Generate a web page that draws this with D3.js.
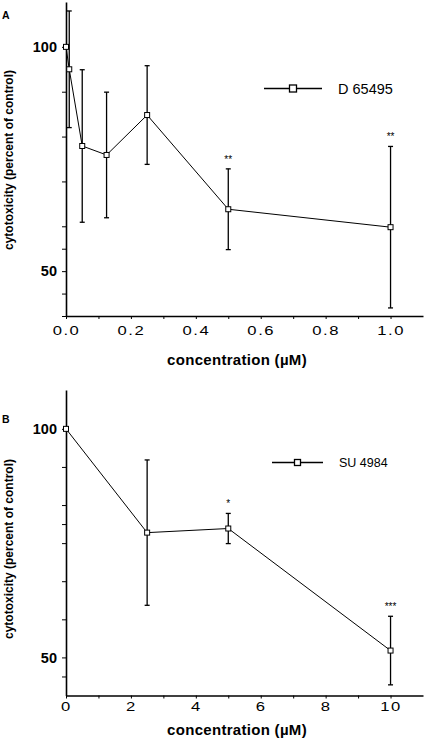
<!DOCTYPE html>
<html><head><meta charset="utf-8">
<script src="https://cdn.jsdelivr.net/npm/d3@7"></script>
<style>
body{margin:0;background:#fff}
svg{display:block}
text{font-family:"Liberation Sans",Arial,Helvetica,sans-serif;fill:#000}
</style>
</head><body>
<svg id="c" width="426" height="738"></svg>
<script>
// ---- data ----
const concA = [0, 0.01, 0.05, 0.125, 0.25, 0.5, 1.0];
const valA  = [100, 95, 77.9, 75.9, 84.8, 63.8, 59.8];
const errA  = [0, 13, 17, 14, 11, 9, 18];
const sigA  = ["", "", "", "", "", "**", "**"];

const concB = [0, 2.5, 5, 10];
const valB  = [100, 77.3, 78.2, 51.5];
const errB  = [0, 15.9, 3.3, 7.5];
const sigB  = ["", "", "*", "***"];

const yTicksA  = [100, 90, 80, 70, 60, 55, 50, 45, 40];
const yLabelsA = [100, 50];
const xTicksA  = [0, 0.1, 0.2, 0.3, 0.4, 0.5, 0.6, 0.7, 0.8, 0.9, 1.0];
const xLabelsA = [0, 0.2, 0.4, 0.6, 0.8, 1.0];

const yTicksB  = [100, 91.67, 83.33, 79.17, 75, 66.67, 58.33, 50, 45.83];
const yLabelsB = [100, 50];
const xTicksB  = [0, 1, 2, 3, 4, 5, 6, 7, 8, 9, 10];
const xLabelsB = [0, 2, 4, 6, 8, 10];

const seriesA = "D 65495", seriesB = "SU 4984";
const xTitle = "concentration (\u00B5M)";
const yTitle = "cytotoxicity (percent of control)";

// ---- drawing ----
const svg = d3.select("#c");

function panel(cfg) {
  const g = svg.append("g");
  const x = d3.scaleLinear().domain(cfg.xDomain).range([66, 423]);
  const y = d3.scaleLinear().domain(cfg.yDomain).range([cfg.bottom, cfg.top]);

  // x axis line + ticks
  const gx = g.append("g").attr("transform", `translate(0,${cfg.bottom})`)
    .call(d3.axisBottom(x).tickValues(cfg.xTicks).tickSize(3).tickSizeOuter(0).tickFormat(""));
  gx.select(".domain").attr("stroke-width", 1.6);
  gx.selectAll(".tick line").attr("stroke-width", 1);

  // x labels
  const gxl = g.append("g").attr("transform", `translate(0,${cfg.bottom})`)
    .call(d3.axisBottom(x).tickValues(cfg.xLabels).tickSize(0).tickPadding(cfg.xPad).tickFormat(cfg.xFmt));
  gxl.select(".domain").remove();
  gxl.selectAll("text").attr("font-size", 13).attr("font-family", null)
    .style("letter-spacing", "1.2px").attr("transform", "scale(1.28,1)");

  // y axis line + ticks
  const gy = g.append("g").attr("transform", "translate(66,0)")
    .call(d3.axisLeft(y).tickValues(cfg.yTicks).tickSize(4).tickSizeOuter(0).tickFormat(""));
  gy.select(".domain").attr("stroke-width", 1.6);
  gy.selectAll(".tick line").attr("stroke-width", 1);

  const gyl = g.append("g").attr("transform", "translate(66,0)")
    .call(d3.axisLeft(y).tickValues(cfg.yLabels).tickSize(0).tickPadding(9).tickFormat(d3.format("d")));
  gyl.select(".domain").remove();
  gyl.selectAll("text").attr("font-size", 14.5).attr("font-weight", "bold").attr("font-family", null);

  // titles
  g.append("text").attr("x", 237).attr("y", cfg.xTitleY).attr("text-anchor", "middle")
    .attr("font-size", 15).attr("font-weight", "bold").style("letter-spacing", "0.3px").text(xTitle);
  g.append("text").attr("transform", `translate(13,${cfg.yTitleC}) rotate(-90)`)
    .attr("text-anchor", "middle").attr("font-size", 12).attr("font-weight", "bold").text(yTitle);
  g.append("text").attr("x", 2).attr("y", cfg.letterY).attr("font-size", 10.5)
    .attr("font-weight", "bold").text(cfg.letter);

  const data = cfg.conc.map((c, i) => ({c, v: cfg.val[i], e: cfg.err[i], s: cfg.sig[i]}));

  // error bars
  const eb = g.append("g").attr("stroke", "#000").attr("stroke-width", 1.3);
  data.filter(d => d.e > 0).forEach(d => {
    const cx = x(d.c);
    eb.append("line").attr("x1", cx).attr("x2", cx).attr("y1", y(d.v - d.e)).attr("y2", y(d.v + d.e));
    eb.append("line").attr("x1", cx - 2.5).attr("x2", cx + 2.5).attr("y1", y(d.v + d.e)).attr("y2", y(d.v + d.e));
    eb.append("line").attr("x1", cx - 2.5).attr("x2", cx + 2.5).attr("y1", y(d.v - d.e)).attr("y2", y(d.v - d.e));
  });

  // line
  g.append("path").datum(data)
    .attr("d", d3.line().x(d => x(d.c)).y(d => y(d.v)))
    .attr("fill", "none").attr("stroke", "#000").attr("stroke-width", 1);

  // markers
  g.selectAll("rect.pt").data(data).join("rect").attr("class", "pt")
    .attr("x", d => x(d.c) - 2.5).attr("y", d => y(d.v) - 2.5)
    .attr("width", 5).attr("height", 5)
    .attr("fill", "#fff").attr("stroke", "#000").attr("stroke-width", 1);

  // significance stars
  g.selectAll("text.sig").data(data.filter(d => d.s)).join("text").attr("class", "sig")
    .attr("x", d => x(d.c)).attr("y", d => y(d.v + d.e) - 6)
    .attr("text-anchor", "middle").attr("font-size", 10).text(d => d.s);

  // legend
  const L = cfg.legend;
  g.append("line").attr("x1", L.x1).attr("x2", L.x2).attr("y1", L.y).attr("y2", L.y)
    .attr("stroke", "#000").attr("stroke-width", 1.5);
  g.append("rect").attr("x", (L.x1 + L.x2) / 2 - L.s / 2).attr("y", L.y - L.s / 2)
    .attr("width", L.s).attr("height", L.s).attr("fill", "#fff").attr("stroke", "#000").attr("stroke-width", 1.3);
  g.append("text").attr("x", L.tx).attr("y", L.y + L.fs * 0.36).attr("font-size", L.fs).text(cfg.name);
}

panel({
  conc: concA, val: valA, err: errA, sig: sigA, name: seriesA,
  xDomain: [0, 1.1], yDomain: [40, 110], top: 2, bottom: 316,
  xTicks: xTicksA, xLabels: xLabelsA, xFmt: d3.format(".1f"), xPad: 10,
  yTicks: yTicksA, yLabels: yLabelsA,
  xTitleY: 365, yTitleC: 160, letter: "A", letterY: 19,
  legend: {x1: 264, x2: 322, y: 88.5, s: 7, tx: 338, fs: 14.5}
});

panel({
  conc: concB, val: valB, err: errB, sig: sigB, name: seriesB,
  xDomain: [0, 11], yDomain: [41.67, 108.5], top: 390, bottom: 695.5,
  xTicks: xTicksB, xLabels: xLabelsB, xFmt: d3.format("d"), xPad: 6,
  yTicks: yTicksB, yLabels: yLabelsB,
  xTitleY: 735, yTitleC: 549, letter: "B", letterY: 423,
  legend: {x1: 272, x2: 323, y: 462.5, s: 6, tx: 339, fs: 12.5}
});
</script>
</body></html>
